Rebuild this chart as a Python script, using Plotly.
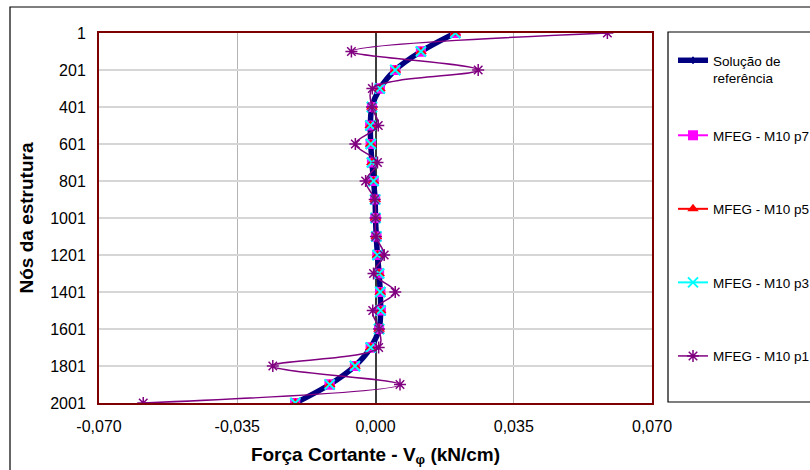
import plotly.graph_objects as go

# Structure nodes (every 100th node)
nodes = [1, 101, 201, 301, 401, 501, 601, 701, 801, 901, 1001,
         1101, 1201, 1301, 1401, 1501, 1601, 1701, 1801, 1901, 2001]

# Shear force V_phi (kN/cm) along the structure
ref_solution = [0.0202, 0.0115, 0.0050, 0.0011, -0.0009, -0.0013, -0.0012,
                -0.0009, -0.0005, -0.0001, 0.0000, 0.0002, 0.0005, 0.0009,
                0.0012, 0.0013, 0.0009, -0.0012, -0.0052, -0.0116, -0.0203]
mfeg_p7 = [0.0202, 0.0115, 0.0050, 0.0011, -0.0009, -0.0013, -0.0012,
           -0.0009, -0.0005, -0.0001, 0.0000, 0.0002, 0.0005, 0.0009,
           0.0012, 0.0013, 0.0009, -0.0012, -0.0052, -0.0116, -0.0203]
mfeg_p5 = [0.0202, 0.0115, 0.0050, 0.0011, -0.0009, -0.0013, -0.0012,
           -0.0009, -0.0005, -0.0001, 0.0000, 0.0002, 0.0005, 0.0009,
           0.0012, 0.0013, 0.0009, -0.0012, -0.0052, -0.0116, -0.0203]
mfeg_p3 = [0.0202, 0.0115, 0.0050, 0.0011, -0.0009, -0.0013, -0.0012,
           -0.0009, -0.0005, -0.0001, 0.0000, 0.0002, 0.0005, 0.0009,
           0.0012, 0.0013, 0.0009, -0.0012, -0.0052, -0.0116, -0.0203]
mfeg_p1 = [0.0587, -0.0061, 0.0260, -0.0008, -0.0009, 0.0007, -0.0051,
           0.0005, -0.0025, -0.0002, 0.0000, 0.0001, 0.0022, -0.0005,
           0.0050, -0.0007, 0.0009, 0.0008, -0.0260, 0.0062, -0.0588]

x_tick_vals = [-0.070, -0.035, 0.0, 0.035, 0.070]
x_tick_text = ["-0,070", "-0,035", "0,000", "0,035", "0,070"]
y_tick_vals = [1, 201, 401, 601, 801, 1001, 1201, 1401, 1601, 1801, 2001]
y_tick_text = [str(v) for v in y_tick_vals]

FONT = "Arial, Liberation Sans, sans-serif"

fig = go.Figure()

# p7/p5/p3 series: lines (under the reference curve) + legend entries
series = [
    ("MFEG - M10 p7", mfeg_p7, "#FF00FF", dict(symbol="square", size=10, color="#FF00FF"), 2),
    ("MFEG - M10 p5", mfeg_p5, "#FF0000", dict(symbol="triangle-up", size=10, color="#FF0000"), 3),
    ("MFEG - M10 p3", mfeg_p3, "#00FFFF",
     dict(symbol="x-thin", size=10, color="#00FFFF", line=dict(color="#00FFFF", width=2)), 4),
]
for name, vals, col, mk, rank in series:
    fig.add_trace(go.Scatter(
        x=vals, y=nodes, name=name, mode="lines+markers",
        line=dict(color=col, width=2, shape="spline", smoothing=1),
        marker=mk, legendgroup=name, legendrank=rank, legend="legend"))

# Reference solution
fig.add_trace(go.Scatter(
    x=ref_solution, y=nodes, name="Solução de<br>referência", mode="lines+markers",
    line=dict(color="#000080", width=5.5, shape="spline", smoothing=1),
    marker=dict(symbol="line-ns", size=5, color="#000080",
                line=dict(color="#000080", width=2)),
    legend="legend2"))

# Markers of p7/p5/p3 drawn above the reference curve
for name, vals, col, mk, rank in series:
    fig.add_trace(go.Scatter(
        x=vals, y=nodes, mode="markers", marker=mk, showlegend=False,
        legendgroup=name, hoverinfo="skip"))

# p1 series
fig.add_trace(go.Scatter(
    x=mfeg_p1, y=nodes, name="MFEG - M10 p1", mode="lines+markers",
    line=dict(color="#800080", width=1.5, shape="spline", smoothing=1),
    marker=dict(symbol="asterisk-open", size=10, color="#800080",
                line=dict(color="#800080", width=1.5)),
    legendgroup="p1", legendrank=5, legend="legend"))

L, R, T, B = 99, 158, 33, 67
pw, ph = 810 - L - R, 470 - T - B


def px_x(p):
    return (p - L) / pw


def px_y(p):
    return (470 - B - p) / ph


legend_common = dict(
    xanchor="left", yanchor="top",
    font=dict(family=FONT, size=13.5, color="black"),
    bgcolor="rgba(0,0,0,0)", borderwidth=0, valign="top", itemwidth=30,
)

fig.update_layout(
    width=810, height=470,
    margin=dict(l=L, r=R, t=T, b=B, autoexpand=False),
    paper_bgcolor="white", plot_bgcolor="white",
    font=dict(family=FONT, color="black"),
    showlegend=True,
    legend=dict(x=px_x(673), y=px_y(120), tracegroupgap=53, **legend_common),
    legend2=dict(x=px_x(673), y=px_y(45), **legend_common),
    xaxis=dict(
        range=[-0.070, 0.070], tickvals=x_tick_vals, ticktext=x_tick_text,
        tickfont=dict(size=16), ticks="", ticklabelstandoff=8,
        showgrid=True, gridcolor="#b4b4b4", gridwidth=1,
        zeroline=True, zerolinecolor="#3c3c3c", zerolinewidth=1.5,
        showline=True, linecolor="#7f0000", linewidth=2, mirror=True,
        title=dict(text="<b>Força Cortante - V<sub>φ</sub> (kN/cm)</b>",
                   font=dict(size=19), standoff=13),
    ),
    yaxis=dict(
        range=[2001, 1], autorange=False, tickvals=y_tick_vals, ticktext=y_tick_text,
        tickfont=dict(size=16), ticks="", ticklabelstandoff=8,
        showgrid=True, gridcolor="#d6d6d6", gridwidth=2, zeroline=False,
        showline=True, linecolor="#7f0000", linewidth=2, mirror=True,
        title=dict(text="<b>Nós da estrutura</b>", font=dict(size=19), standoff=12),
    ),
    # small tick marks along the vertical zero axis
    yaxis2=dict(
        overlaying="y", anchor="free", position=0.5, side="right",
        range=[2001, 1], autorange=False, tickvals=y_tick_vals,
        showticklabels=False, ticks="outside", ticklen=4, tickcolor="#3c3c3c",
        tickwidth=1.5, showgrid=False, zeroline=False, showline=False,
    ),
    shapes=[
        # outer chart frame
        dict(type="rect", xref="paper", yref="paper", layer="above",
             x0=px_x(10), x1=px_x(900), y0=px_y(520), y1=px_y(7),
             line=dict(color="black", width=1.2), fillcolor="rgba(0,0,0,0)"),
        # legend frame
        dict(type="rect", xref="paper", yref="paper", layer="above",
             x0=px_x(668), x1=px_x(900), y0=px_y(402), y1=px_y(32),
             line=dict(color="black", width=1.2), fillcolor="rgba(0,0,0,0)"),
    ],
)

fig.write_html("out.html")
